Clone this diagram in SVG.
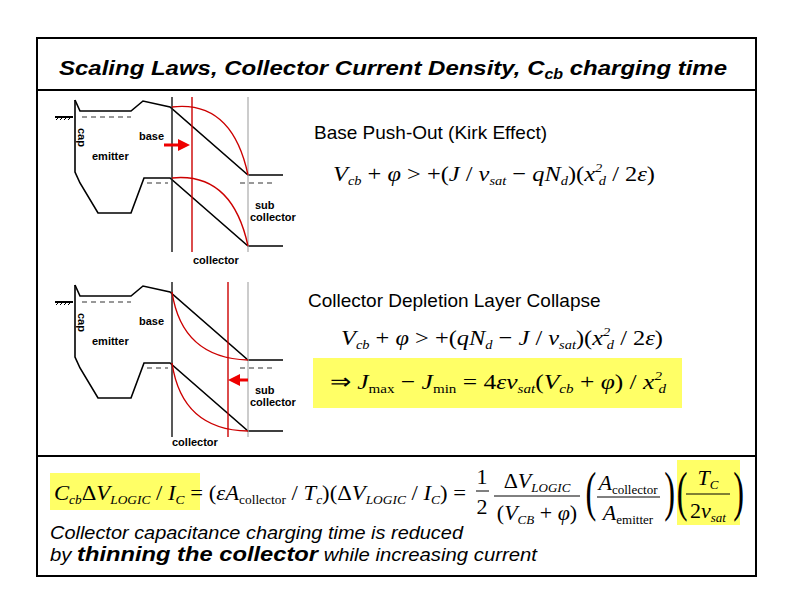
<svg xmlns="http://www.w3.org/2000/svg" width="792" height="612" viewBox="0 0 792 612">
<style>
.b{fill:none;stroke:#000;stroke-width:1.6}
.d{fill:none;stroke:#333;stroke-width:1.2;stroke-dasharray:5,4}
.r{fill:none;stroke:#c00;stroke-width:1.4}
.lb{font-family:"Liberation Sans",sans-serif;font-weight:bold;font-size:11px}
.t{font-family:"Liberation Sans",sans-serif;font-size:19px}
.m{font-family:"Liberation Serif",serif;font-style:italic;font-size:22px}
.s{font-size:13px}
.n{font-style:normal}
</style>
<defs>
<g id="band">
<path class="b" d="M75,100 L80,111 L131,111 L143,101 L170,107 L248,175 L283,175"/>
<path class="b" d="M75,100 L75,172 L80,183 L98,213 L131,213 L144,178 L170,178 L248,246 L283,246"/>
<line class="d" x1="82" y1="117" x2="131" y2="117"/>
<line class="d" x1="147" y1="183" x2="168" y2="183"/>
<line class="d" x1="240" y1="183" x2="276" y2="183"/>
<line x1="55" y1="117" x2="73" y2="117" stroke="#000" stroke-width="2"/>
<path d="M56,120 l3,-3 M60,120 l3,-3 M64,120 l3,-3 M68,120 l3,-3" stroke="#000" stroke-width="1"/>
<line x1="172" y1="97" x2="172" y2="252" stroke="#222" stroke-width="1.5"/>
<line x1="248" y1="97" x2="248" y2="252" stroke="#aaa" stroke-width="1.2"/>
<text class="lb" transform="translate(78,128) rotate(90)">cap</text>
<text class="lb" x="139" y="140">base</text>
<text class="lb" x="92" y="160">emitter</text>
<text class="lb" x="255" y="209">sub</text>
<text class="lb" x="250" y="221">collector</text>
</g>
</defs>
<rect x="0" y="0" width="792" height="612" fill="#fff"/>
<rect x="37" y="38" width="719" height="538" fill="none" stroke="#000" stroke-width="2"/>
<line x1="37" y1="90" x2="756" y2="90" stroke="#000" stroke-width="2"/>
<line x1="37" y1="456" x2="756" y2="456" stroke="#000" stroke-width="2"/>
<text x="59" y="75" font-family="Liberation Sans,sans-serif" font-weight="bold" font-style="italic" font-size="21" textLength="668" lengthAdjust="spacingAndGlyphs">Scaling Laws, Collector Current Density, C<tspan font-size="14" dy="4">cb</tspan><tspan dy="-4"> charging time</tspan></text>

<g id="diagram-top">
<use href="#band"/>
<line x1="192" y1="97" x2="192" y2="252" stroke="#c00" stroke-width="1.4"/>
<path class="r" d="M172,107 Q232,100 248,175"/>
<path class="r" d="M172,178 Q232,172 248,246"/>
<line x1="164" y1="145" x2="180" y2="145" stroke="#e00" stroke-width="3"/>
<path d="M178,139 L190,145 L178,151 Z" fill="#e00"/>
<text class="lb" x="193" y="264">collector</text>
</g>

<g id="diagram-bottom">
<use href="#band" y="185"/>
<line x1="228" y1="282" x2="228" y2="437" stroke="#c00" stroke-width="1.4"/>
<path class="r" d="M172,292 Q182,358 248,360"/>
<path class="r" d="M172,363 Q182,430 248,431"/>
<line x1="248" y1="380" x2="238" y2="380" stroke="#e00" stroke-width="3"/>
<path d="M240,374 L228,380 L240,386 Z" fill="#e00"/>
<text class="lb" x="172" y="446">collector</text>
</g>

<g id="kirk">
<text class="t" x="314" y="139">Base Push-Out (Kirk Effect)</text>
<text class="m" x="333" y="181" textLength="322" lengthAdjust="spacingAndGlyphs">V<tspan class="s" dy="4">cb</tspan><tspan dy="-4" class="n"> + </tspan>φ<tspan class="n"> &gt; +(</tspan>J<tspan class="n"> / </tspan>v<tspan class="s" dy="4">sat</tspan><tspan dy="-4" class="n"> − </tspan>qN<tspan class="s" dy="4">d</tspan><tspan dy="-4" class="n">)(</tspan>x<tspan class="s" dy="-9">2</tspan><tspan class="s" dx="-3" dy="13">d</tspan><tspan dy="-4" class="n"> / 2</tspan>ε<tspan class="n">)</tspan></text>
</g>

<g id="collapse">
<text class="t" x="308" y="307">Collector Depletion Layer Collapse</text>
<text class="m" x="341" y="345" textLength="322" lengthAdjust="spacingAndGlyphs">V<tspan class="s" dy="4">cb</tspan><tspan dy="-4" class="n"> + </tspan>φ<tspan class="n"> &gt; +(</tspan>qN<tspan class="s" dy="4">d</tspan><tspan dy="-4" class="n"> − </tspan>J<tspan class="n"> / </tspan>v<tspan class="s" dy="4">sat</tspan><tspan dy="-4" class="n">)(</tspan>x<tspan class="s" dy="-9">2</tspan><tspan class="s" dx="-3" dy="13">d</tspan><tspan dy="-4" class="n"> / 2</tspan>ε<tspan class="n">)</tspan></text>
<rect x="313" y="358" width="369" height="50" fill="#ffff66"/>
<text class="m" x="330" y="389" textLength="336" lengthAdjust="spacingAndGlyphs"><tspan class="n">⇒   </tspan>J<tspan class="s n" dy="4">max</tspan><tspan dy="-4" class="n"> − </tspan>J<tspan class="s n" dy="4">min</tspan><tspan dy="-4" class="n"> = 4</tspan>εv<tspan class="s" dy="4">sat</tspan><tspan dy="-4" class="n">(</tspan>V<tspan class="s" dy="4">cb</tspan><tspan dy="-4" class="n"> + </tspan>φ<tspan class="n">) / </tspan>x<tspan class="s" dy="-9">2</tspan><tspan class="s" dx="-3" dy="13">d</tspan></text>
</g>

<g id="charging">
<rect x="50" y="473" width="150" height="37" fill="#ffff66"/>
<rect x="677" y="460" width="63" height="65" fill="#ffff66"/>
<text class="m" x="54" y="500" font-size="24" textLength="412" lengthAdjust="spacingAndGlyphs">C<tspan class="s" dy="4">cb</tspan><tspan dy="-4" class="n">Δ</tspan>V<tspan class="s" dy="4">LOGIC</tspan><tspan dy="-4" class="n"> / </tspan>I<tspan class="s" dy="4">C</tspan><tspan dy="-4" class="n"> = (</tspan>εA<tspan class="s n" dy="4">collector</tspan><tspan dy="-4" class="n"> / </tspan>T<tspan class="s" dy="4">c</tspan><tspan dy="-4" class="n">)(Δ</tspan>V<tspan class="s" dy="4">LOGIC</tspan><tspan dy="-4" class="n"> / </tspan>I<tspan class="s" dy="4">C</tspan><tspan dy="-4" class="n">) =</tspan></text>
<text class="m n" x="482" y="484" text-anchor="middle">1</text>
<line x1="476" y1="491" x2="489" y2="491" stroke="#000"/>
<text class="m n" x="482" y="514" text-anchor="middle">2</text>
<text class="m" x="537" y="488" text-anchor="middle"><tspan class="n">Δ</tspan>V<tspan class="s" dy="4">LOGIC</tspan></text>
<line x1="494" y1="496" x2="580" y2="496" stroke="#000"/>
<text class="m" x="537" y="520" text-anchor="middle"><tspan class="n">(</tspan>V<tspan class="s" dy="4">CB</tspan><tspan dy="-4" class="n"> + </tspan>φ<tspan class="n">)</tspan></text>
<text x="976" y="510" font-family="Liberation Serif,serif" font-size="54" transform="scale(0.6,1)">(</text>
<text class="m" x="628" y="490" text-anchor="middle">A<tspan class="s n" dy="4">collector</tspan></text>
<line x1="597" y1="497" x2="660" y2="497" stroke="#000"/>
<text class="m" x="628" y="520" text-anchor="middle">A<tspan class="s n" dy="4">emitter</tspan></text>
<text x="1107" y="510" font-family="Liberation Serif,serif" font-size="54" transform="scale(0.6,1)">)</text>
<text x="1128" y="510" font-family="Liberation Serif,serif" font-size="54" transform="scale(0.6,1)">(</text>
<text class="m" x="708" y="485" text-anchor="middle">T<tspan class="s" dy="4">C</tspan></text>
<line x1="686" y1="494" x2="730" y2="494" stroke="#000"/>
<text class="m" x="708" y="518" text-anchor="middle"><tspan class="n">2</tspan>v<tspan class="s" dy="4">sat</tspan></text>
<text x="1222" y="510" font-family="Liberation Serif,serif" font-size="54" transform="scale(0.6,1)">)</text>
<text x="50" y="539" font-family="Liberation Sans,sans-serif" font-style="italic" font-size="18" textLength="413" lengthAdjust="spacingAndGlyphs">Collector capacitance charging time is reduced</text>
<text x="50" y="561" font-family="Liberation Sans,sans-serif" font-style="italic" font-size="18" textLength="487" lengthAdjust="spacingAndGlyphs">by <tspan font-weight="bold" font-size="21">thinning the collector</tspan> while increasing current</text>
</g>
</svg>
